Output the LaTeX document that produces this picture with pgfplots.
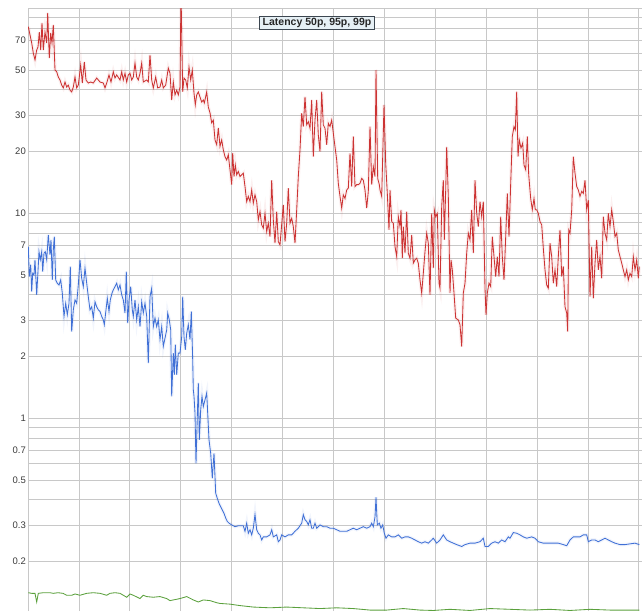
\documentclass[border=0pt]{standalone}
\usepackage{pgfplots}
\usepackage{pgfplotstable}
\pgfplotsset{compat=1.18}
\usepackage{fontspec}
\setmainfont{Liberation Sans}
\definecolor{redline}{RGB}{204,51,51}
\definecolor{blueline}{RGB}{64,112,214}
\definecolor{greenline}{RGB}{90,160,60}
\definecolor{gridgray}{RGB}{200,200,200}
\definecolor{labelgray}{RGB}{60,60,60}
\definecolor{titlefill}{RGB}{230,240,245}
\definecolor{titledraw}{RGB}{60,70,80}

\pgfplotstableread{
x y
0.3 81.3
3.7 67.7
5.3 60.5
7.0 56.0
8.7 62.6
10.0 64.7
11.3 76.6
12.7 62.6
14.0 84.8
15.3 62.6
17.0 76.6
18.7 67.7
19.7 94.9
21.3 57.2
22.7 75.8
24.0 67.7
25.3 82.9
27.0 50.0
28.7 49.0
30.3 46.2
32.0 44.7
33.7 42.2
35.3 40.9
37.0 43.7
38.7 41.3
40.3 42.2
42.0 39.9
43.7 39.1
45.3 41.3
47.0 46.2
48.7 40.9
50.3 42.2
52.7 52.9
54.3 43.2
56.3 54.7
58.0 44.7
60.3 43.2
62.7 43.7
65.3 43.2
68.7 45.7
72.0 43.7
75.3 43.2
77.0 40.9
78.7 43.2
81.0 47.3
83.0 43.7
85.3 49.0
87.0 45.7
88.7 47.3
92.0 44.7
93.7 49.0
95.3 44.7
97.0 48.2
98.7 43.7
100.3 47.3
102.0 48.2
103.7 44.7
105.3 46.2
107.0 54.1
108.7 46.2
110.3 44.7
112.0 48.2
113.7 54.1
115.3 43.7
118.7 44.7
120.3 43.7
122.0 59.2
123.7 44.7
125.3 40.9
127.7 46.2
129.7 40.9
132.0 41.3
133.7 44.7
135.3 40.9
137.7 42.2
140.3 51.1
142.0 48.2
143.7 35.7
145.3 43.7
147.0 37.8
148.7 39.9
150.3 37.8
152.0 41.3
153.0 120
154.7 39.1
156.0 45.7
157.7 44.7
159.3 40.9
161.0 51.7
162.7 44.7
164.3 50.0
166.0 38.6
167.3 33.8
168.7 37.8
170.3 39.1
172.0 36.9
173.7 34.9
175.3 35.7
176.3 34.5
178.7 39.1
180.3 33.0
182.0 30.9
183.7 27.6
185.3 28.5
187.0 22.8
188.7 21.6
190.3 26.1
192.0 21.2
193.7 22.8
195.3 20.4
197.0 18.9
198.7 18.2
200.3 19.3
202.0 16.3
203.7 13.8
204.7 19.7
206.0 15.1
207.3 17.2
208.7 15.4
210.3 16.0
212.0 15.1
213.7 15.4
215.3 15.7
217.0 13.5
218.7 11.4
220.3 12.1
222.0 11.4
223.7 13.0
225.3 11.2
227.0 12.3
228.7 11.4
230.3 9.28
232.0 10.2
233.7 8.78
235.3 8.46
237.0 10.0
238.7 8.14
240.3 8.95
242.0 7.69
243.7 14.5
245.3 9.28
247.0 7.15
248.7 10.2
250.3 7.28
252.0 7.02
255.3 11.0
257.0 7.28
258.7 8.95
260.3 13.25
262.0 8.95
263.7 9.46
265.3 8.61
267.0 7.15
268.7 10.4
270.3 15.1
272.0 20.4
273.7 30.8
275.3 26.5
277.0 37.0
278.7 27.0
280.3 28.0
282.0 26.0
283.7 35.7
285.3 18.9
287.0 28.5
288.7 35.7
290.3 24.1
292.0 20.0
293.7 39.2
295.3 27.0
297.0 26.0
298.7 21.6
300.3 27.5
302.0 26.5
303.7 28.5
305.3 24.6
307.0 21.1
308.7 18.2
310.3 14.0
312.0 12.1
313.7 10.6
315.3 12.3
317.0 11.8
318.7 13.0
320.3 13.25
322.0 19.6
323.7 13.5
325.3 23.7
327.0 13.5
328.7 13.8
330.3 13.8
332.0 14.0
333.7 14.8
335.3 14.5
337.0 13.0
338.7 10.6
340.3 12.8
342.0 26.5
343.7 13.8
345.3 16.9
347.0 15.1
348.0 50.0
349.7 14.8
351.3 13.8
352.0 13.0
353.7 12.1
356.0 33.8
357.7 17.5
359.3 12.5
361.0 8.30
362.0 13.0
363.7 9.11
365.3 8.95
367.0 6.88
368.7 6.15
370.3 9.63
372.0 8.61
373.0 10.4
374.3 6.04
375.3 8.61
377.0 6.39
378.7 10.2
380.3 6.39
382.0 6.04
383.7 7.85
385.3 5.71
387.0 5.93
388.7 6.04
390.3 5.71
392.0 4.73
393.7 4.08
395.3 5.10
397.0 6.50
398.7 8.00
400.3 7.15
402.0 4.00
403.7 10.0
405.3 5.40
406.3 10.4
407.7 9.63
409.3 10.0
411.0 4.56
412.0 4.31
413.7 10.8
415.3 14.5
416.3 7.42
417.7 13.0
418.7 21.1
420.3 12.1
422.0 4.08
423.0 5.93
424.3 5.30
426.0 4.08
427.7 3.08
430.3 3.02
432.0 2.86
433.7 2.24
435.3 4.08
437.0 4.56
438.7 6.39
440.3 8.00
442.0 7.42
443.7 10.4
445.3 6.39
447.0 14.5
448.7 10.0
450.3 8.61
452.0 11.4
453.7 9.63
455.3 11.4
457.0 4.31
458.0 3.20
459.3 4.08
461.0 4.56
462.7 4.39
464.3 7.69
466.0 6.15
467.7 4.91
469.3 6.15
471.0 4.91
472.7 9.63
474.3 6.15
476.0 4.73
477.7 7.69
479.3 12.5
481.0 7.69
482.7 14.0
484.3 23.7
486.0 26.5
487.3 25.5
488.7 39.2
490.0 18.9
491.3 22.8
493.0 20.8
494.7 22.0
496.0 17.2
497.7 16.3
499.3 23.7
500.7 15.4
502.7 11.8
504.3 10.4
506.0 11.8
507.3 10.4
508.7 10.4
510.3 10.0
512.0 9.11
513.7 8.78
515.3 6.76
517.0 5.30
518.7 4.47
520.3 4.31
522.0 7.15
523.7 6.15
525.3 4.56
527.0 5.30
528.7 4.39
530.3 6.15
532.0 8.30
533.7 4.91
535.3 5.50
537.0 3.50
538.7 3.26
539.7 2.65
540.7 8.30
542.0 8.00
543.7 10.4
545.3 18.9
547.0 15.7
548.7 13.5
550.3 13.0
552.0 12.1
553.7 12.8
555.3 12.5
557.0 14.5
558.7 10.4
560.3 11.6
562.0 3.92
563.7 6.88
565.3 3.85
567.0 5.71
568.7 7.42
570.3 5.30
572.0 6.15
573.7 4.82
575.3 9.63
577.0 8.00
578.7 7.42
580.3 10.0
582.0 8.61
583.7 10.4
585.3 9.11
587.0 7.69
588.7 8.00
590.3 6.63
592.0 6.15
593.7 5.71
595.3 5.30
597.0 4.91
598.7 5.30
600.3 4.73
602.0 5.10
603.7 4.91
605.3 6.15
607.0 5.30
608.7 5.93
610.3 4.82
611.3 5.50
}\redtab

\pgfplotstableread{
x y
0.3 6.88
1.3 4.91
2.7 5.61
3.7 4.15
4.7 5.10
6.0 5.00
7.0 5.93
8.7 4.00
9.7 4.91
11.0 6.50
12.3 5.93
13.7 6.50
14.7 5.19
16.0 6.39
17.3 6.50
18.7 5.93
20.3 7.85
22.0 6.27
23.0 7.42
24.3 4.73
25.3 6.63
26.3 7.69
27.7 4.73
29.3 4.56
31.0 4.47
32.7 4.73
34.3 4.08
36.0 3.14
37.7 3.64
39.3 3.20
41.0 3.64
42.3 5.50
43.7 2.65
45.3 3.38
47.0 3.78
48.7 3.64
50.3 4.47
52.0 5.93
53.7 4.82
55.3 4.39
57.0 5.40
58.7 4.56
60.3 3.92
62.0 3.38
63.7 3.50
65.3 3.08
67.0 3.70
68.7 3.50
70.3 3.38
72.0 3.32
73.7 3.14
75.3 3.02
76.3 2.86
78.0 3.38
79.3 3.85
81.0 3.32
82.3 3.78
84.0 4.08
85.3 4.23
87.0 4.39
88.7 4.56
90.3 4.23
92.0 4.47
93.7 4.00
95.3 3.78
97.0 3.26
98.3 5.19
99.7 2.91
101.0 3.78
102.7 4.39
104.3 3.38
105.3 3.14
107.0 3.78
108.7 3.02
110.3 3.50
112.0 2.80
113.7 3.70
115.3 3.26
117.0 3.64
118.7 3.14
120.3 1.86
122.0 3.92
123.7 4.31
125.3 2.80
127.0 3.08
128.7 2.80
130.3 3.02
132.0 2.42
133.7 2.80
135.3 2.24
137.0 2.46
138.7 2.70
139.7 3.26
141.3 3.02
142.7 2.70
143.7 1.28
145.3 2.08
146.3 1.63
147.3 2.29
148.7 1.63
150.3 2.08
152.0 2.08
153.7 2.50
154.7 3.92
156.0 2.50
157.3 2.16
158.7 2.60
160.3 2.86
162.0 2.42
163.3 3.32
164.7 1.93
165.3 1.38
166.0 1.28
167.0 1.06
168.0 0.603
169.3 1.02
170.3 1.49
171.3 0.785
172.7 1.10
174.0 1.28
175.3 1.14
177.0 1.23
178.7 1.33
179.7 1.06
181.0 0.785
182.7 0.675
184.3 0.510
186.0 0.675
187.7 0.431
189.3 0.407
191.0 0.385
192.7 0.370
194.3 0.357
196.0 0.344
197.7 0.326
199.3 0.314
201.0 0.308
203.7 0.302
207.0 0.296
210.3 0.299
215.3 0.299
217.0 0.281
218.7 0.308
220.3 0.275
222.0 0.286
223.7 0.270
225.3 0.291
227.0 0.339
228.7 0.286
230.3 0.275
232.0 0.270
233.7 0.255
235.3 0.264
238.7 0.264
242.0 0.270
243.7 0.286
245.3 0.264
248.7 0.270
250.3 0.250
252.0 0.255
253.7 0.270
257.0 0.264
260.3 0.270
263.7 0.270
267.0 0.281
270.3 0.291
273.7 0.308
275.3 0.339
277.0 0.320
278.7 0.314
280.3 0.302
282.0 0.320
283.7 0.291
285.3 0.291
287.0 0.308
288.7 0.291
292.0 0.302
295.3 0.296
298.7 0.296
302.0 0.291
305.3 0.291
308.7 0.286
312.0 0.281
315.3 0.281
318.7 0.281
322.0 0.286
325.3 0.291
328.7 0.286
332.0 0.291
335.3 0.296
338.7 0.291
342.0 0.296
343.7 0.308
345.3 0.296
347.0 0.330
348.0 0.412
349.3 0.302
351.3 0.308
353.0 0.291
354.7 0.302
356.3 0.275
358.0 0.260
360.3 0.270
363.7 0.264
367.0 0.264
370.3 0.270
373.7 0.260
377.0 0.264
380.3 0.264
383.7 0.260
387.0 0.255
390.3 0.250
393.7 0.246
397.0 0.250
400.3 0.246
403.7 0.255
405.3 0.260
408.7 0.246
412.0 0.255
415.3 0.270
418.7 0.255
422.0 0.250
425.3 0.246
428.7 0.242
433.7 0.237
437.0 0.242
442.0 0.246
447.0 0.246
452.0 0.250
455.3 0.260
457.0 0.237
460.3 0.237
463.7 0.246
467.0 0.250
470.3 0.246
473.7 0.255
477.0 0.250
480.3 0.264
482.0 0.260
485.3 0.277
488.7 0.275
492.0 0.270
495.3 0.264
498.7 0.260
503.7 0.264
507.0 0.260
510.3 0.250
515.3 0.246
520.3 0.246
525.3 0.246
530.3 0.246
535.3 0.242
538.7 0.239
542.0 0.255
545.3 0.264
548.7 0.264
552.0 0.264
555.3 0.270
558.7 0.270
560.3 0.250
563.7 0.255
567.0 0.255
570.3 0.250
573.7 0.255
577.0 0.260
580.3 0.255
583.7 0.250
587.0 0.246
592.0 0.242
597.0 0.242
602.0 0.244
607.0 0.246
611.3 0.242
}\bluetab

\pgfplotstableread{
x y
0.3 0.141
3.7 0.140
7.0 0.140
8.7 0.127
10.3 0.140
15.3 0.141
22.0 0.141
25.3 0.140
30.0 0.141
35.0 0.140
38.7 0.137
43.7 0.137
47.0 0.139
52.0 0.137
58.7 0.140
65.3 0.141
72.0 0.140
78.7 0.137
82.0 0.140
87.0 0.141
92.0 0.140
98.7 0.134
102.0 0.139
105.3 0.137
112.0 0.132
115.3 0.137
118.7 0.135
125.3 0.134
132.0 0.135
138.7 0.132
142.0 0.129
145.3 0.130
152.0 0.132
158.7 0.135
165.3 0.130
170.3 0.127
175.3 0.130
182.0 0.129
188.7 0.126
192.0 0.125
202.0 0.124
212.0 0.122
225.3 0.120
242.0 0.119
258.7 0.120
275.3 0.119
292.0 0.118
308.7 0.119
325.3 0.118
342.0 0.116
358.7 0.116
375.3 0.118
392.0 0.116
405.3 0.1155
422.0 0.117
442.0 0.1155
462.0 0.118
482.0 0.117
502.0 0.116
522.0 0.117
542.0 0.1155
562.0 0.117
582.0 0.116
611.3 0.116
}\greentab

\begin{document}
\begin{tikzpicture}
\begin{axis}[
  name=ax,
  scale only axis,
  width=614pt, height=602.7pt,
  xmin=0, xmax=614,
  ymode=log, ymin=0.1148, ymax=100,
  axis line style={draw=none},
  xtick={0,50.9,101.8,152.7,203.6,254.5,305.4,356.3,407.2,458.1,509,559.9,610.8},
  xticklabels={},
  ytick={0.2,0.3,0.4,0.5,0.6,0.7,0.8,0.9,1,2,3,4,5,6,7,8,9,10,20,30,40,50,60,70,80,90,100},
  yticklabels={0.2,0.3,{},0.5,{},0.7,{},{},1,2,3,{},5,{},7,{},{},10,20,30,{},50,{},70,{},{},{}},
  major tick length=0pt,
  minor tick length=0pt,
  xmajorgrids, ymajorgrids,
  major grid style={draw=gridgray, line width=0.8pt},
  tick label style={font=\fontsize{9.5}{11}\selectfont, text=labelgray},
  yticklabel style={inner sep=2pt},
  clip=true,
]
\addplot[draw=redline, line width=3.5pt, opacity=0.07] table[x=x,y=y] {\redtab};
\addplot[draw=blueline, line width=3.5pt, opacity=0.07] table[x=x,y=y] {\bluetab};
\addplot[draw=redline, line width=0.85pt] table[x=x,y=y] {\redtab};
\addplot[draw=blueline, line width=0.85pt] table[x=x,y=y] {\bluetab};
\addplot[draw=greenline, line width=0.85pt] table[x=x,y=y] {\greentab};
\node[fill=titlefill, draw=titledraw, line width=0.6pt, inner xsep=3pt, inner ysep=2pt,
      font=\bfseries\fontsize{10.5}{12}\selectfont, text=black!85]
  at (rel axis cs:0.4707,0.9756) {Latency 50p, 95p, 99p};
\end{axis}
\pgfresetboundingbox
\path[use as bounding box] ([xshift=-28pt]ax.south west) rectangle ([yshift=8.3pt]ax.north east);
\end{tikzpicture}
\end{document}
